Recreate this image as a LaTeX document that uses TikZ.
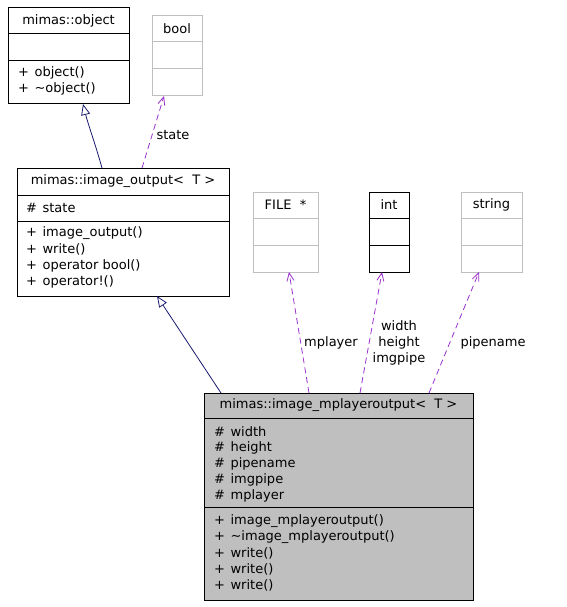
\documentclass[tikz,border=0pt]{standalone}
\usepackage{fontspec}
\setmainfont{DejaVu Sans}
\usetikzlibrary{arrows.meta,calc}
\definecolor{inh}{HTML}{191970}
\definecolor{use}{HTML}{9A32CD}
\definecolor{lgray}{HTML}{BFBFBF}
\newcommand\mgap{\hskip 5.5pt\relax}
\begin{document}
\begin{tikzpicture}[x=1pt,y=-1pt,
 cls/.style={draw=black, line width=1pt, rectangle, anchor=north west, inner sep=0pt, outer sep=0pt},
 ext/.style={cls, draw=lgray},
 div/.style={line width=1pt},
 txt/.style={inner sep=0pt, font=\fontsize{13}{16}\selectfont},
 mem/.style={txt, anchor=west},
 inherit/.style={draw=inh, line width=0.8pt, -{Triangle[open, length=11pt, width=9pt, fill=white]}},
 usage/.style={draw=use, line width=0.8pt, dash pattern=on 6pt off 4pt, -{Straight Barb[length=8pt, width=7pt]}},
 elbl/.style={txt, align=center}
]
\useasboundingbox[fill=white] (0,0) rectangle (566,607);

% mimas::object
\node[cls, minimum width=121pt, minimum height=96pt] (A) at (8,8) {};
\draw[div] ($(A.north west)+(0,26)$) -- ($(A.north east)+(0,26)$);
\draw[div] ($(A.north west)+(0,53)$) -- ($(A.north east)+(0,53)$);
\node[txt] (At) at ($(A.north)+(0,13)$) {mimas::object};
\node[mem] (A1) at ($(A.north west)+(10,65)$) {+\mgap object()};
\node[mem] (A2) at ($(A.north west)+(10,81)$) {+\mgap\textasciitilde object()};

% bool
\node[ext, minimum width=50pt, minimum height=80pt] (B) at (152,16) {};
\draw[div, lgray] ($(B.north west)+(0,26)$) -- ($(B.north east)+(0,26)$);
\draw[div, lgray] ($(B.north west)+(0,53)$) -- ($(B.north east)+(0,53)$);
\node[txt] (Bt) at ($(B.north)+(0,13)$) {bool};

% mimas::image_output<T>
\node[cls, minimum width=212pt, minimum height=128pt] (C) at (17,168) {};
\draw[div] ($(C.north west)+(0,27)$) -- ($(C.north east)+(0,27)$);
\draw[div] ($(C.north west)+(0,53)$) -- ($(C.north east)+(0,53)$);
\node[txt] (Ct) at ($(C.north)+(0,13.5)$) {mimas::image\_output<~ T >};
\node[mem] (C0) at ($(C.north west)+(9,40)$) {\#\mgap state};
\node[mem] (C1) at ($(C.north west)+(9,65)$) {+\mgap image\_output()};
\node[mem] (C2) at ($(C.north west)+(9,81)$) {+\mgap write()};
\node[mem] (C3) at ($(C.north west)+(9,98)$) {+\mgap operator bool()};
\node[mem] (C4) at ($(C.north west)+(9,114)$) {+\mgap operator!()};

% FILE *
\node[ext, minimum width=65pt, minimum height=80pt] (D) at (253,192) {};
\draw[div, lgray] ($(D.north west)+(0,26)$) -- ($(D.north east)+(0,26)$);
\draw[div, lgray] ($(D.north west)+(0,53)$) -- ($(D.north east)+(0,53)$);
\node[txt] (Dt) at ($(D.north)+(0,13)$) {FILE~ *};

% int
\node[cls, minimum width=40pt, minimum height=80pt] (E) at (369,192) {};
\draw[div] ($(E.north west)+(0,26)$) -- ($(E.north east)+(0,26)$);
\draw[div] ($(E.north west)+(0,53)$) -- ($(E.north east)+(0,53)$);
\node[txt] (Et) at ($(E.north)+(0,13)$) {int};

% string
\node[ext, minimum width=61pt, minimum height=80pt] (F) at (461,192) {};
\draw[div, lgray] ($(F.north west)+(0,26)$) -- ($(F.north east)+(0,26)$);
\draw[div, lgray] ($(F.north west)+(0,53)$) -- ($(F.north east)+(0,53)$);
\node[txt] (Ft) at ($(F.north)+(0,13)$) {string};

% mimas::image_mplayeroutput<T>
\node[cls, fill=lgray, minimum width=269pt, minimum height=207pt] (G) at (204,393) {};
\draw[div] ($(G.north west)+(0,25)$) -- ($(G.north east)+(0,25)$);
\draw[div] ($(G.north west)+(0,114)$) -- ($(G.north east)+(0,114)$);
\node[txt] (Gt) at ($(G.north)+(0,12.5)$) {mimas::image\_mplayeroutput<~ T >};
\node[mem] (G1) at ($(G.north west)+(10,38.5)$) {\#\mgap width};
\node[mem] (G2) at ($(G.north west)+(10,54.5)$) {\#\mgap height};
\node[mem] (G3) at ($(G.north west)+(10,70.5)$) {\#\mgap pipename};
\node[mem] (G4) at ($(G.north west)+(10,86.5)$) {\#\mgap imgpipe};
\node[mem] (G5) at ($(G.north west)+(10,102.5)$) {\#\mgap mplayer};
\node[mem] (G6) at ($(G.north west)+(10,128.5)$) {+\mgap image\_mplayeroutput()};
\node[mem] (G7) at ($(G.north west)+(10,144.5)$) {+\mgap\textasciitilde image\_mplayeroutput()};
\node[mem] (G8) at ($(G.north west)+(10,160.5)$) {+\mgap write()};
\node[mem] (G9) at ($(G.north west)+(10,176.5)$) {+\mgap write()};
\node[mem] (G10) at ($(G.north west)+(10,192.5)$) {+\mgap write()};

% inheritance
\draw[inherit] ($(G.north west)+(17,0)$) -- ($(C.south west)+(140,0)$);
\draw[inherit] ($(C.north west)+(85,0)$) .. controls ($(C.north west)+(78,-25)$) and ($(A.south west)+(80,20)$) .. ($(A.south west)+(75,0)$);

% usage
\draw[usage] ($(C.north west)+(125,0)$) -- ($(B.south west)+(12,0)$);
\node[elbl] (Ls) at (173,135) {state};
\draw[usage] ($(G.north west)+(105,0)$) -- ($(D.south west)+(36,0)$);
\node[elbl] (Lm) at (331,343) {mplayer};
\draw[usage] ($(G.north west)+(156,0)$) -- ($(E.south west)+(13,0)$);
\node[elbl] (Lw) at (399,343) {width\\height\\imgpipe};
\draw[usage] ($(G.north west)+(225,0)$) -- ($(F.south west)+(18,0)$);
\node[elbl] (Lp) at (493,343) {pipename};
\end{tikzpicture}
\end{document}
